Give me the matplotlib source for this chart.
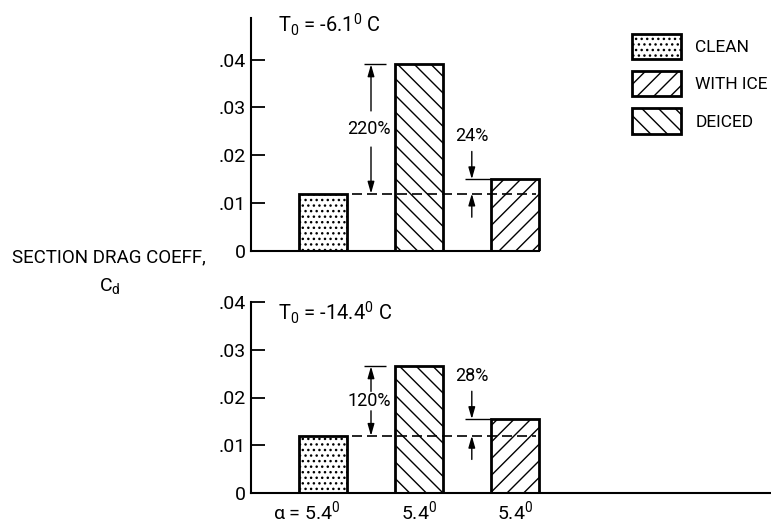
import matplotlib
matplotlib.use('Agg')
import matplotlib.pyplot as plt
from matplotlib.patches import Patch

plt.rcParams['font.family'] = ['Roboto', 'DejaVu Sans']
plt.rcParams['mathtext.default'] = 'regular'
plt.rcParams['hatch.linewidth'] = 1.0

# datos
categories = ['CLEAN', 'WITH ICE', 'DEICED']
positions = [1, 2, 3]
cd_warm = [0.012, 0.039, 0.015]
cd_cold = [0.012, 0.0265, 0.0155]
pct_warm = ['220%', '24%']
pct_cold = ['120%', '28%']
temps = ['-6.1', '-14.4']
x_labels = ['α = 5.4$^0$', '5.4$^0$', '5.4$^0$']
yticks = [0, 0.01, 0.02, 0.03, 0.04]
ytick_labels = ['0', '.01', '.02', '.03', '.04']

bar_hatches = ['...', '\\\\', '//']
legend_hatches = ['...', '//', '\\\\']
width = 0.5

fig = plt.figure(figsize=(7.71, 5.23), dpi=100)
ax_top = fig.add_axes([251 / 771, 1 - 251 / 523, 519 / 771, 233 / 523])
ax_bot = fig.add_axes([251 / 771, 1 - 493.3 / 523, 519 / 771, 191.6 / 523])

arrow = dict(arrowstyle='-|>,head_length=0.7,head_width=0.2', color='black', lw=1.0)


def draw_panel(ax, values, pcts, temp, ytop, gap):
    ax.bar(positions, values, width=width, color='white', edgecolor='black',
           linewidth=2, hatch=bar_hatches, zorder=2)
    ax.set_xlim(0.25, 0.25 + 519 / 96)
    ax.set_ylim(0, ytop)
    for s in ['top', 'right']:
        ax.spines[s].set_visible(False)
    ax.spines['left'].set_linewidth(1.5)
    ax.spines['bottom'].set_linewidth(1.5)
    ax.set_yticks(yticks, ytick_labels, fontsize=14)
    ax.set_xticks([])
    ax.tick_params(axis='y', direction='in', length=10, width=1.3, pad=4)

    base = values[0]
    # linea discontinua al nivel de la barra limpia
    ax.plot([1.30, 3.22], [base, base], color='black', lw=1.2,
            linestyle=(0, (6, 3)), zorder=3)

    # incremento con hielo
    xb = (positions[0] + positions[1]) / 2
    mid = (base + values[1]) / 2
    ax.hlines(values[1], xb - 0.07, xb + 0.16, color='black', lw=1.0)
    ax.annotate('', xy=(xb, values[1]), xytext=(xb, mid), arrowprops=dict(arrow, shrinkA=gap, shrinkB=0))
    ax.annotate('', xy=(xb, base), xytext=(xb, mid), arrowprops=dict(arrow, shrinkA=gap, shrinkB=0))
    ax.text(xb - 0.02, mid, pcts[0], ha='center', va='center', fontsize=13)

    # incremento deshielado
    xo = positions[2] - 0.45
    ax.hlines(values[2], xo - 0.07, positions[2] - width / 2, color='black', lw=1.0)
    ax.annotate('', xy=(xo, values[2]), xytext=(0, 20), textcoords='offset points',
                arrowprops=dict(arrow, shrinkA=0, shrinkB=0))
    ax.annotate('', xy=(xo, base), xytext=(0, -17), textcoords='offset points',
                arrowprops=dict(arrow, shrinkA=0, shrinkB=0))
    ax.annotate(pcts[1], xy=(xo, values[2]), xytext=(0, 31), textcoords='offset points',
                ha='center', va='center', fontsize=13)

    ax.text(0.53, 0, 'T$_0$ = ' + temp + '$^0$ C', ha='left', va='center', fontsize=14.5)


draw_panel(ax_top, cd_warm, pct_warm, temps[0], 0.0487, 13)
draw_panel(ax_bot, cd_cold, pct_cold, temps[1], 0.04, 7)
ax_top.texts[-1].set_y(0.0473)
ax_bot.texts[-1].set_y(0.0376)

# linea base del panel superior solo hasta la ultima barra
ax_top.spines['bottom'].set_bounds(0.25, positions[-1] + width / 2)

for i, lbl in enumerate(x_labels):
    dx = -12 if i == 0 else 0
    ax_bot.annotate(lbl, xy=(positions[i], 0), xycoords=('data', 'axes fraction'),
                    xytext=(dx, -13), textcoords='offset points',
                    ha='center', va='center', fontsize=14)

fig.text(109 / 771, 1 - 257 / 523, 'SECTION DRAG COEFF,', ha='center', va='center', fontsize=13.5)
fig.text(110 / 771, 1 - 286 / 523, 'C$_d$', ha='center', va='center', fontsize=14)

handles = [Patch(facecolor='white', edgecolor='black', linewidth=2, hatch=h) for h in legend_hatches]
fig.legend(handles, categories, loc='upper left', bbox_to_anchor=(632 / 771, 1 - 34 / 523),
           frameon=False, fontsize=12.5, handlelength=2.8, handleheight=1.86,
           labelspacing=0.69, handletextpad=0.84, borderpad=0, borderaxespad=0)

plt.savefig('out.png', dpi=100)
